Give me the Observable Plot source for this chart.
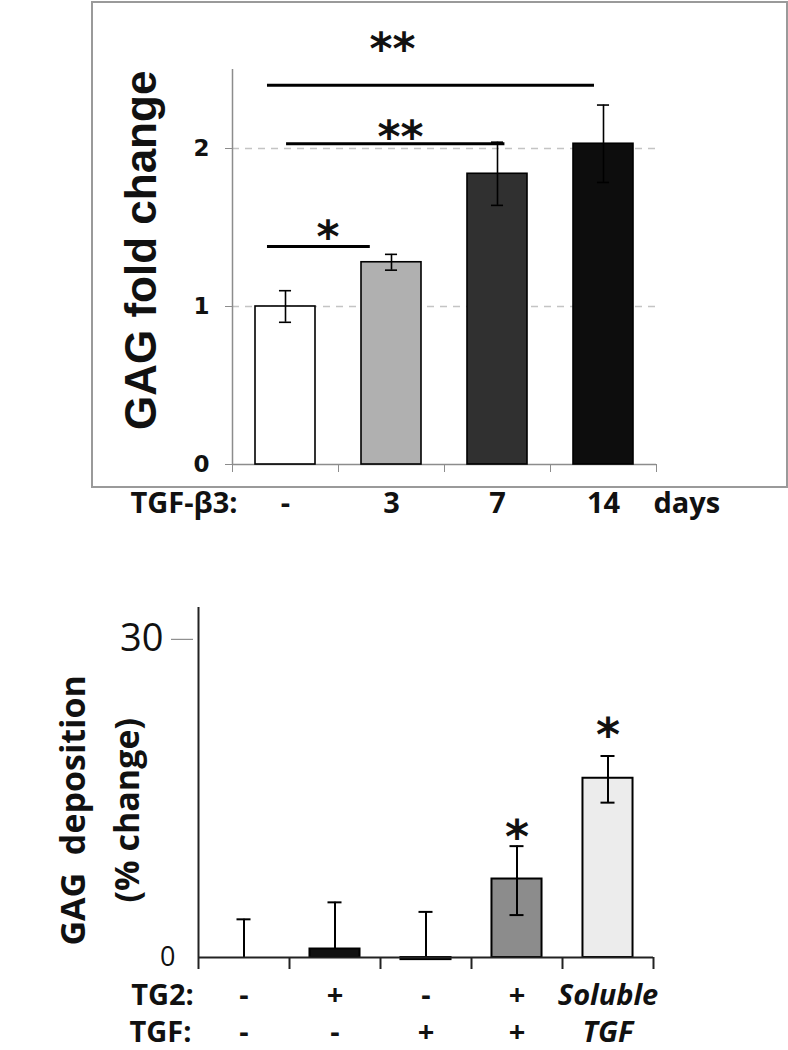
<!DOCTYPE html>
<html>
<head>
<meta charset="utf-8">
<script src="https://cdn.jsdelivr.net/npm/d3@7"></script>
<script src="https://cdn.jsdelivr.net/npm/@observablehq/plot@0.6"></script>
<style>
  html, body { margin: 0; padding: 0; background: #ffffff; }
  #wrap { position: relative; width: 788px; height: 1050px; overflow: hidden; }
  #top, #bottom { position: absolute; left: 0; }
  #top { top: 0; }
  #bottom { top: 560px; }
  #frame { position: absolute; left: 91px; top: 1px; width: 693px; height: 483px; border: 2px solid #9a9a9a; pointer-events: none; }
</style>
</head>
<body>
<div id="wrap">
  <div id="top"></div>
  <div id="frame"></div>
  <div id="bottom"></div>
</div>
<script>
// ---------- Top chart data ----------
const topDays = ["-", "3", "7", "14"];
const topValues = [1.0, 1.28, 1.84, 2.03];
const topErrors = [0.10, 0.05, 0.20, 0.245];
const topFills = ["#ffffff", "#b0b0b0", "#303030", "#0d0d0d"];
const topYTicks = [0, 1, 2];
const topGrid = [1, 2];
const topSigLines = [
  {x1: 0.33, x2: 1.30, y: 1.38},
  {x1: 0.51, x2: 2.57, y: 2.03},
  {x1: 0.33, x2: 3.415, y: 2.40}
];
const topStars = [
  {x: 0.90, y: 1.50, label: "*"},
  {x: 1.585, y: 2.13, label: "**"},
  {x: 1.51, y: 2.69, label: "**"}
];

// ---------- Bottom chart data ----------
const tg2Row = ["-", "+", "-", "+", "Soluble"];
const tgfRow = ["-", "-", "+", "+", "TGF"];
const botValues = [0, 0.8, -0.2, 7.4, 16.9];
const botErrUp = [3.6, 4.4, 4.5, 3.1, 2.1];
const botErrDown = [0, 0, 0, 3.4, 2.3];
const botFills = ["#ffffff", "#111111", "#111111", "#8c8c8c", "#ececec"];
const botYTicks = [0, 30];
const botStars = [
  {x: 3.5, y: 12.3, label: "*"},
  {x: 4.5, y: 21.9, label: "*"}
];

// ---------- Top chart ----------
const topIdx = topValues.map((_, i) => i);
const topHalf = 0.283, topCap = 0.057;
const topCaps = [];
topIdx.forEach(i => {
  topCaps.push({i, y: topValues[i] + topErrors[i]});
  topCaps.push({i, y: topValues[i] - topErrors[i]});
});

const topPlot = Plot.plot({
  width: 788,
  height: 530,
  marginLeft: 232,
  marginRight: 132,
  marginTop: 69,
  marginBottom: 66,
  style: {fontFamily: "Open Sans", background: "transparent", overflow: "visible"},
  x: {domain: [0, 4]},
  y: {domain: [0, 2.5]},
  marks: [
    Plot.ruleY(topGrid, {x1: 0, x2: 4, stroke: "#c4c4c4", strokeWidth: 1.5, strokeDasharray: "7,6"}),
    Plot.ruleX([0], {y1: 0, y2: 2.5, stroke: "#8c8c8c", strokeWidth: 1.5}),
    Plot.ruleY([0], {x1: 0, x2: 4, stroke: "#8c8c8c", strokeWidth: 1.5}),
    Plot.axisY(topYTicks, {tickSize: 7, tickPadding: 16, stroke: "#8c8c8c", fill: "#111",
      fontSize: 23, fontWeight: "bold", fontFamily: "DejaVu Sans", label: null, tickFormat: d => String(d)}),
    Plot.axisX([0, 1, 2, 3, 4], {tickSize: 8, stroke: "#8c8c8c", tickFormat: () => "", label: null}),
    Plot.rectY(topIdx, {
      x1: i => i + 0.5 - topHalf, x2: i => i + 0.5 + topHalf,
      y1: 0, y2: i => topValues[i],
      fill: i => topFills[i], stroke: "#000", strokeWidth: 1.6
    }),
    Plot.ruleX(topIdx, {x: i => i + 0.5, y1: i => topValues[i] - topErrors[i], y2: i => topValues[i] + topErrors[i], stroke: "#000", strokeWidth: 1.6}),
    Plot.ruleY(topCaps, {y: "y", x1: d => d.i + 0.5 - topCap, x2: d => d.i + 0.5 + topCap, stroke: "#000", strokeWidth: 1.6}),
    Plot.ruleY(topSigLines, {y: "y", x1: "x1", x2: "x2", stroke: "#000", strokeWidth: 3}),
    Plot.text(topStars, {x: "x", y: "y", text: "label", fontFamily: "DejaVu Sans", fontWeight: "bold", fontSize: 44, dy: 10, fill: "#111"}),
    Plot.text(topDays, {x: (d, i) => i + 0.5, frameAnchor: "bottom", dy: 48, text: d => d, fontSize: 29, fontWeight: "bold", fill: "#111"}),
    Plot.text(["TGF-β3:"], {frameAnchor: "bottom-left", textAnchor: "end", dx: 5, dy: 48, fontSize: 29, fontWeight: "bold", fill: "#111"}),
    Plot.text(["days"], {frameAnchor: "bottom-right", textAnchor: "start", dx: -3, dy: 48, fontSize: 29, fontWeight: "bold", fill: "#111"}),
    Plot.text(["GAG fold change"], {frameAnchor: "left", rotate: -90, textAnchor: "start", dx: -91, dy: 163, fontSize: 44, fontWeight: "bold", fontFamily: "Liberation Sans", fill: "#111", ariaLabel: "ylabel-top"})
  ]
});
document.getElementById("top").appendChild(topPlot);
d3.select(topPlot).selectAll('g[aria-label="ylabel-top"] text').attr("textLength", 347).attr("lengthAdjust", "spacingAndGlyphs");

// ---------- Bottom chart ----------
const botIdx = botValues.map((_, i) => i);
const botHalf = 0.275, botCap = 0.077;
const botCaps = [];
botIdx.forEach(i => {
  botCaps.push({i, y: botValues[i] + botErrUp[i]});
  if (botErrDown[i] > 0) botCaps.push({i, y: botValues[i] - botErrDown[i]});
});

const botPlot = Plot.plot({
  width: 788,
  height: 490,
  marginLeft: 198,
  marginRight: 135,
  marginTop: 47,
  marginBottom: 93,
  style: {fontFamily: "Open Sans", background: "transparent", overflow: "visible"},
  x: {domain: [0, 5]},
  y: {domain: [0, 33]},
  marks: [
    Plot.axisY([30], {tickSize: 22, tickPadding: 8, dx: -5, stroke: "#777", fill: "#111", fontSize: 38, fontFamily: "Open Sans", label: null, tickFormat: d => String(d)}),
    Plot.axisY([0], {tickSize: 0, tickPadding: 23, fill: "#111", fontSize: 27, fontFamily: "Open Sans", label: null, tickFormat: d => String(d)}),
    Plot.axisX([0, 1, 2, 3, 4, 5], {tickSize: 12, stroke: "#222", strokeWidth: 2, tickFormat: () => "", label: null}),
    Plot.ruleX([0], {y1: 0, y2: 33, stroke: "#222", strokeWidth: 2}),
    Plot.ruleX(botIdx, {x: i => i + 0.5, y1: i => botValues[i] - botErrDown[i], y2: i => botValues[i] + botErrUp[i], stroke: "#000", strokeWidth: 2}),
    Plot.rectY(botIdx, {
      x1: i => i + 0.5 - botHalf, x2: i => i + 0.5 + botHalf,
      y1: 0, y2: i => botValues[i],
      fill: i => botFills[i], stroke: "#000", strokeWidth: 2
    }),
    Plot.ruleX(botIdx.filter(i => botErrDown[i] > 0), {x: i => i + 0.5, y1: i => botValues[i] - botErrDown[i], y2: i => botValues[i] + botErrUp[i], stroke: "#000", strokeWidth: 2}),
    Plot.ruleY(botCaps, {y: "y", x1: d => d.i + 0.5 - botCap, x2: d => d.i + 0.5 + botCap, stroke: "#000", strokeWidth: 2}),
    Plot.ruleY([0], {x1: 0, x2: 5, stroke: "#222", strokeWidth: 2}),
    Plot.text(botStars, {x: "x", y: "y", text: "label", fontFamily: "DejaVu Sans", fontWeight: "bold", fontSize: 46, dy: 11, fill: "#111"}),
    Plot.text(tg2Row.slice(0, 4), {x: (d, i) => i + 0.5, frameAnchor: "bottom", dy: 47.5, text: d => d, fontSize: 29, fontWeight: "bold", fill: "#111"}),
    Plot.text(tgfRow.slice(0, 4), {x: (d, i) => i + 0.5, frameAnchor: "bottom", dy: 84, text: d => d, fontSize: 29, fontWeight: "bold", fill: "#111"}),
    Plot.text([tg2Row[4]], {x: 4.5, frameAnchor: "bottom", dy: 47.5, text: d => d, fontSize: 29, fontWeight: "bold", fontStyle: "italic", fill: "#111"}),
    Plot.text([tgfRow[4]], {x: 4.5, frameAnchor: "bottom", dy: 84, text: d => d, fontSize: 29, fontWeight: "bold", fontStyle: "italic", fill: "#111"}),
    Plot.text(["TG2:"], {frameAnchor: "bottom-left", textAnchor: "middle", dx: -36, dy: 47.5, fontSize: 29, fontWeight: "bold", fill: "#111"}),
    Plot.text(["TGF:"], {frameAnchor: "bottom-left", textAnchor: "middle", dx: -38, dy: 84, fontSize: 29, fontWeight: "bold", fill: "#111"}),
    Plot.text(["GAG\u00a0\u00a0deposition"], {frameAnchor: "left", rotate: -90, textAnchor: "start", dx: -124, dy: 163, fontSize: 34, fontWeight: "bold", fill: "#111", ariaLabel: "ylabel-bot1"}),
    Plot.text(["(% change)"], {frameAnchor: "left", rotate: -90, textAnchor: "start", dx: -70, dy: 120, fontSize: 34, fontWeight: "bold", fill: "#111", ariaLabel: "ylabel-bot2"})
  ]
});
document.getElementById("bottom").appendChild(botPlot);
d3.select(botPlot).selectAll('g[aria-label="ylabel-bot1"] text').attr("textLength", 290).attr("lengthAdjust", "spacingAndGlyphs");
d3.select(botPlot).selectAll('g[aria-label="ylabel-bot2"] text').attr("textLength", 188).attr("lengthAdjust", "spacingAndGlyphs");
</script>
</body>
</html>
